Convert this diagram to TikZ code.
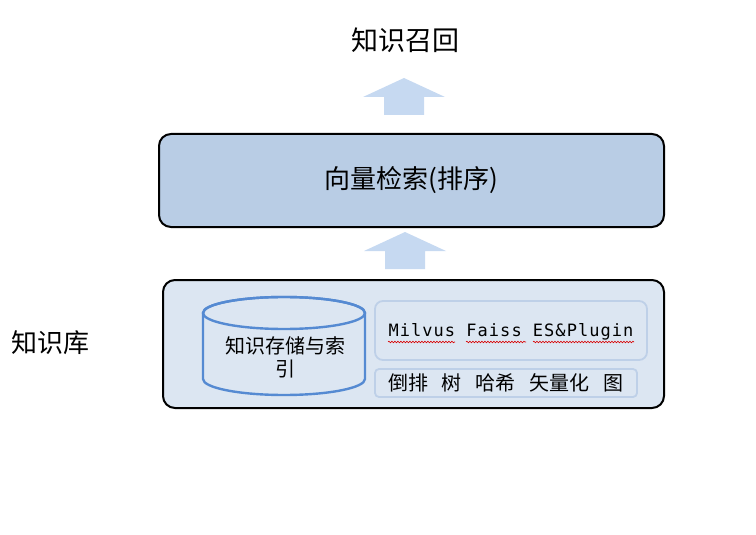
\documentclass[tikz,border=0pt]{standalone}
\usepackage{fontspec}
\newfontfamily\cjkfont{Noto Sans CJK SC}
\newfontfamily\codefont[LetterSpace=6]{DejaVu Sans Mono}
\usetikzlibrary{decorations.pathmorphing}
\definecolor{KbOuterFill}{RGB}{220,230,242}
\definecolor{KbSearchFill}{RGB}{185,205,229}
\definecolor{KbArrowFill}{RGB}{198,217,241}
\definecolor{KbCylDraw}{RGB}{85,138,210}
\definecolor{KbInnerDraw}{RGB}{190,208,232}

\begin{document}
\begin{tikzpicture}[x=1pt,y=-1pt,
  bigbox/.style n args={2}{draw=black,line width=2pt,rounded corners=12pt,inner sep=0pt,minimum width=#1pt,minimum height=#2pt},
  subbox/.style n args={3}{draw=KbInnerDraw,line width=1.8pt,rounded corners=#3pt,inner sep=0pt,minimum width=#1pt,minimum height=#2pt},
  lbl/.style={font=\cjkfont\fontsize{#1pt}{#1pt}\selectfont,inner sep=0pt},
  uparrow/.style={fill=KbArrowFill},
  cylline/.style={draw=KbCylDraw,line width=2.4pt},
  spellmark/.style={draw=red!85!black,line width=0.6pt,decorate,decoration={snake,amplitude=0.8pt,segment length=3pt}}]
\useasboundingbox (0,0) rectangle (756,535);
% title and side label
\node[lbl=27] (recall) at (405,40) {知识召回};
\node[lbl=26] (kbase) at (51,343) {知识库};
% block arrows
\foreach \ax/\ay in {404/78,405/232} {
  \fill[uparrow] (\ax,\ay) -- ++(41,19) -- ++(-21,0) -- ++(0,18) -- ++(-40,0) -- ++(0,-18) -- ++(-21,0) -- cycle;
}
% vector search
\node[bigbox={505}{93},fill=KbSearchFill,lbl=26] (search) at (411.5,180.5) {向量检索(排序)};
% knowledge base
\node[bigbox={501}{128},fill=KbOuterFill] (store) at (413.5,344) {};
\filldraw[cylline,fill=KbOuterFill] (203,313) -- (203,379)
  arc[start angle=180,end angle=0,x radius=81,y radius=16] -- (365,313)
  arc[start angle=0,end angle=-180,x radius=81,y radius=16] -- cycle;
\draw[cylline] (284,313) ellipse[x radius=81,y radius=16];
\node[lbl=20,align=center,font=\cjkfont\fontsize{20pt}{23pt}\selectfont] (cyltext) at (285,357) {知识存储与索\\引};
\node[subbox={272}{59}{8}] (engines) at (511,330.5) {};
\node[font=\codefont\fontsize{17pt}{17pt}\selectfont,inner sep=0pt] (enginetext) at (511,332) {Milvus Faiss ES\&Plugin};
\draw[spellmark] (388,342) -- (455,342);
\draw[spellmark] (466,342) -- (526,342);
\draw[spellmark] (533,342) -- (634,342);
\node[subbox={262}{28}{4}] (indexes) at (506,383) {};
\node[lbl=20] (indextext) at (506,383) {倒排\hspace{0.7em}树\hspace{0.7em}哈希\hspace{0.7em}矢量化\hspace{0.7em}图};
\end{tikzpicture}
\end{document}
